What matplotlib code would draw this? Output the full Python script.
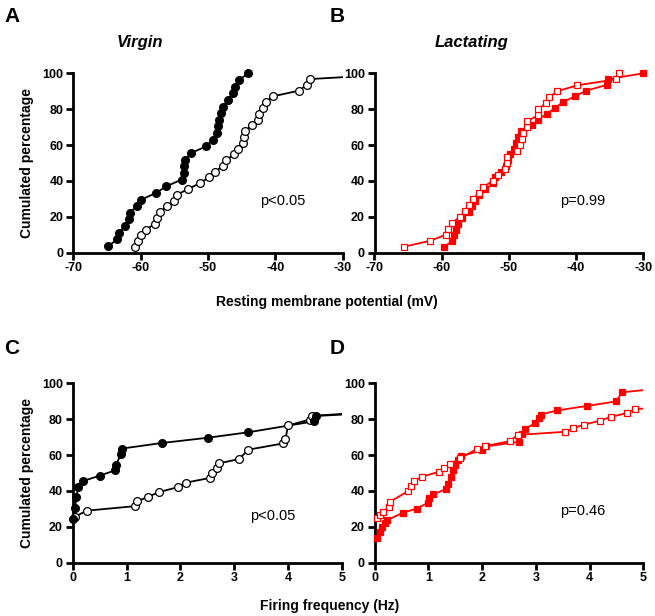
import numpy as np
import matplotlib
matplotlib.use("Agg")
import matplotlib.pyplot as plt

plt.rcParams['font.family'] = ['Liberation Sans', 'DejaVu Sans']
plt.rcParams['axes.unicode_minus'] = False

# ---- A: virgin, resting membrane potential (mV) vs cumulated %
a_fill_x = [-64.8, -63.5, -63.2, -62.3, -61.8, -61.6, -60.6, -59.9, -57.7, -56.2,
            -53.9, -53.6, -53.5, -53.4, -52.5, -50.3, -49.3, -48.7, -48.5, -48.3,
            -48.1, -47.7, -47.0, -46.3, -46.0, -45.4, -44.0]
a_fill_y = [100 * i / 27 for i in range(1, 28)]
a_open_x = [-60.8, -60.4, -60.0, -59.2, -57.9, -57.6, -57.2, -56.1, -55.0, -54.6,
            -53.0, -51.2, -49.9, -49.0, -47.7, -47.3, -46.1, -45.5, -44.8, -44.7,
            -44.5, -43.5, -42.6, -42.4, -41.8, -41.4, -40.4, -36.5, -35.3, -34.9, -20.0]
a_open_y = [100 * i / 31 for i in range(1, 32)]

# ---- B: lactating
b_fill_x = [-59.7, -58.4, -58.2, -57.9, -57.6, -57.0, -56.0, -55.5, -55.0, -54.5,
            -53.5, -52.3, -52.1, -51.2, -50.5, -50.2, -49.8, -49.3, -48.9, -48.7,
            -48.2, -46.6, -45.6, -44.4, -43.1, -42.0, -40.2, -38.5, -35.4, -35.2, -30.0]
b_fill_y = [100 * i / 31 for i in range(1, 32)]
b_open_x = [-65.6, -61.7, -59.4, -59.0, -58.4, -57.3, -56.5, -56.0, -55.3, -54.5,
            -53.8, -52.4, -51.6, -50.6, -50.3, -50.3, -48.8, -48.4, -48.1, -47.9,
            -47.3, -47.3, -45.6, -45.6, -44.5, -44.0, -42.8, -39.8, -34.0, -33.6]
b_open_y = [100 * i / 30 for i in range(1, 31)]

# ---- C: virgin, firing frequency (Hz)
c_fill_x = [0.0, 0.04, 0.07, 0.1, 0.19, 0.5, 0.79, 0.81, 0.89, 0.91,
            1.65, 2.52, 3.26, 4.48, 4.52, 6.4]
c_fill_y = [24.2, 30.3, 36.4, 42.4, 45.5, 48.5, 51.5, 54.5, 60.6, 63.6,
            66.7, 69.7, 72.7, 78.8, 81.8, 84.8]
c_open_x = [0.04, 0.26, 1.15, 1.2, 1.4, 1.6, 1.95, 2.1, 2.54, 2.58,
            2.68, 2.72, 3.09, 3.26, 3.91, 3.95, 4.0, 4.4, 4.45, 6.0]
c_open_y = [25.6, 29.0, 31.5, 34.2, 36.8, 39.3, 42.1, 44.6, 47.2, 49.8,
            52.8, 55.4, 57.8, 63.0, 66.5, 69.0, 76.5, 79.8, 81.8, 85.0]

# ---- D: lactating
d_fill_x = [0.04, 0.1, 0.14, 0.19, 0.24, 0.53, 0.78, 0.99, 1.01, 1.09,
            1.32, 1.37, 1.42, 1.46, 1.5, 1.55, 1.61, 2.0, 2.07, 2.69,
            2.74, 2.79, 2.99, 3.05, 3.09, 3.4, 3.96, 4.49, 4.61, 5.6]
d_fill_y = [13.6, 17.3, 20.1, 22.0, 23.8, 27.9, 30.1, 33.4, 35.9, 38.1,
            40.9, 43.9, 47.9, 51.7, 54.5, 57.2, 59.5, 62.6, 64.8, 67.4,
            71.7, 74.6, 77.7, 80.5, 82.6, 84.9, 87.4, 89.9, 95.0, 98.0]
d_open_x = [0.04, 0.1, 0.16, 0.26, 0.29, 0.63, 0.68, 0.74, 0.88, 1.2,
            1.3, 1.4, 1.59, 1.9, 2.06, 2.52, 2.66, 3.55, 3.69, 3.9,
            4.19, 4.39, 4.69, 4.84, 5.3]
d_open_y = [24.7, 26.5, 28.0, 31.2, 34.0, 40.0, 43.0, 45.5, 47.9, 50.7,
            52.6, 54.8, 58.2, 63.3, 65.0, 67.8, 71.2, 73.0, 74.9, 77.0,
            79.1, 81.2, 83.4, 85.6, 86.5]

RED = '#ff0000'


def draw_series(ax, x, y, marker, color, filled, ms, xmax):
    x = np.array(x)
    y = np.array(y)
    ax.plot(x, y, '-', color=color, lw=1.3, clip_on=True, zorder=2)
    keep = x <= xmax
    ax.plot(x[keep], y[keep], linestyle='none', marker=marker, ms=ms,
            mfc=color if filled else 'white', mec=color, mew=0.9,
            clip_on=False, zorder=3)


def style_axes(ax, xlim, xticks):
    ax.set_xlim(*xlim)
    ax.set_ylim(0, 100)
    ax.set_xticks(xticks)
    ax.set_yticks([0, 20, 40, 60, 80, 100])
    for s in ['top', 'right']:
        ax.spines[s].set_visible(False)
    for s in ['left', 'bottom']:
        ax.spines[s].set_linewidth(2)
    ax.tick_params(direction='out', length=5, width=2, labelsize=9, pad=2)
    for lab in ax.get_xticklabels() + ax.get_yticklabels():
        lab.set_fontweight('bold')


fig = plt.figure(figsize=(6.55, 6.16), dpi=100)
W, H = 655, 616

axA = fig.add_axes([73.4 / W, (H - 252.7) / H, 269.2 / W, 179.4 / H])
axB = fig.add_axes([374.5 / W, (H - 252.7) / H, 268.8 / W, 179.4 / H])
axC = fig.add_axes([72.7 / W, (H - 562.7) / H, 269.3 / W, 179.4 / H])
axD = fig.add_axes([374.6 / W, (H - 562.7) / H, 268.7 / W, 179.4 / H])

draw_series(axA, a_open_x, a_open_y, 'o', 'black', False, 5.6, -30)
draw_series(axA, a_fill_x, a_fill_y, 'o', 'black', True, 5.6, -30)
style_axes(axA, (-70, -30), [-70, -60, -50, -40, -30])
axA.text(-38.9, 29, 'p<0.05', fontsize=10.5, ha='center', va='center')

draw_series(axB, b_fill_x, b_fill_y, 's', RED, True, 5.0, -30)
draw_series(axB, b_open_x, b_open_y, 's', RED, False, 5.0, -30)
style_axes(axB, (-70, -30), [-70, -60, -50, -40, -30])
axB.text(-39.0, 29, 'p=0.99', fontsize=10.5, ha='center', va='center')

draw_series(axC, c_open_x, c_open_y, 'o', 'black', False, 5.6, 5)
draw_series(axC, c_fill_x, c_fill_y, 'o', 'black', True, 5.6, 5)
style_axes(axC, (0, 5), [0, 1, 2, 3, 4, 5])
axC.text(3.72, 26, 'p<0.05', fontsize=10.5, ha='center', va='center')

draw_series(axD, d_fill_x, d_fill_y, 's', RED, True, 5.0, 5)
draw_series(axD, d_open_x, d_open_y, 's', RED, False, 5.0, 5)
style_axes(axD, (0, 5), [0, 1, 2, 3, 4, 5])
axD.text(3.88, 29, 'p=0.46', fontsize=10.5, ha='center', va='center')

for ax in (axA, axC):
    ax.set_ylabel('Cumulated percentage', fontsize=10, fontweight='bold', labelpad=6)

fig.text(327 / W, 1 - 302 / H, 'Resting membrane potential (mV)', fontsize=10,
         fontweight='bold', ha='center', va='center')
fig.text(330 / W, 1 - 606 / H, 'Firing frequency (Hz)', fontsize=10,
         fontweight='bold', ha='center', va='center')

fig.text(140 / W, 1 - 42 / H, 'Virgin', fontsize=12, fontweight='bold',
         style='italic', ha='center', va='center')
fig.text(472 / W, 1 - 42 / H, 'Lactating', fontsize=12, fontweight='bold',
         style='italic', ha='center', va='center')

for lbl, (px, py) in zip('ABCD', [(12, 16), (337, 16), (12, 348), (337, 348)]):
    fig.text(px / W, 1 - py / H, lbl, fontsize=15, fontweight='bold',
             ha='center', va='center')

fig.savefig('out.png', dpi=100)
